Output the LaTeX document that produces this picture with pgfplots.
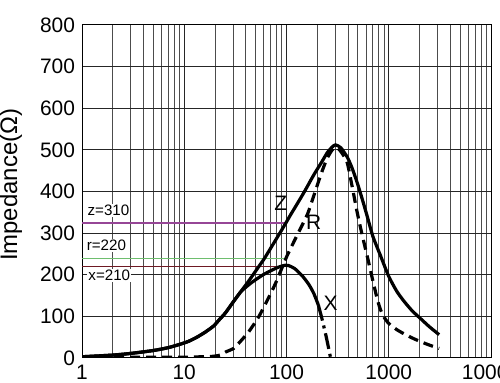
\documentclass[border=0pt]{standalone}
\usepackage{pgfplots}
\pgfplotsset{compat=1.18}
\usepackage{fontspec}
\setmainfont{Liberation Sans}
\definecolor{zcol}{RGB}{150,70,150}
\definecolor{rcol}{RGB}{110,190,110}
\definecolor{xcol}{RGB}{110,25,35}
\begin{document}
\begin{tikzpicture}
\begin{axis}[name=ax, at={(0,0)}, anchor=south west,
  scale only axis, width=204.5bp, height=166.5bp,
  xmode=log, log basis x=10, xmin=1, xmax=10000, ymin=0, ymax=800,
  xtick={1,10,100,1000,10000}, xticklabels={1,10,100,1000,10000},
  minor xtick={2,3,4,5,6,7,8,9,20,30,40,50,60,70,80,90,200,300,400,500,600,700,800,900,2000,3000,4000,5000,6000,7000,8000,9000},
  ytick={0,100,200,300,400,500,600,700,800},
  grid=both,
  major tick length=0pt, minor tick length=0pt,
  tick label style={font=\fontsize{10.5}{12}\selectfont},
  /pgf/number format/assume math mode=true,
  ylabel={Impedance(Ω)},
  ylabel style={at={(axis description cs:0,0.52)}, anchor=center, yshift=35.5bp, font=\fontsize{12}{14}\selectfont},
  axis line style={black, line width=0.5bp},
  major grid style={black!85, line width=0.5bp},
  minor grid style={black!70, line width=0.5bp},
]
% reference lines
\addplot[zcol, line width=0.7bp] coordinates {(1,324) (100,324)};
\addplot[rcol, line width=0.7bp] coordinates {(1,239) (100,239)};
\addplot[xcol, line width=0.7bp] coordinates {(1,220) (96,220)};
% Z
\addplot[black, line width=1.6bp, smooth, tension=0.4] coordinates {
(1,3) (2,7) (3,11) (5,18) (7,25) (9.1,33) (11,40) (13.3,50) (16,62) (19.4,77) (22,92) (25.2,108) (30,134) (35.4,158) (42.7,185) (53,218) (60,237) (67,256) (87,302) (100,327) (109,343) (127,370) (150,400) (185,440) (220,470) (250,493) (280,507) (302,512) (340,505) (394,482) (440,455) (493,420) (550,382) (618,339) (700,292) (833,245) (1000,196) (1200,160) (1413,136) (1700,113) (2060,94) (2500,75) (3110,56)};
% R
\addplot[black, line width=1.6bp, dash pattern=on 5bp off 3bp, smooth, tension=0.4] coordinates {
(1,2) (5,2) (10,2) (15,3) (19,4) (22.5,7) (25.2,14) (30.4,23) (34,35) (42.7,63) (53.5,99) (65,139) (78,179) (94,227) (101,245) (127,295) (160,345) (185,390) (220,445) (250,480) (280,500) (302,507) (330,500) (360,487) (394,468) (440,410) (493,348) (550,295) (618,243) (700,185) (775,140) (833,115) (900,98) (1000,83) (1200,68) (1413,58) (1700,48) (2060,39) (2500,31) (3110,23)};
% X
\addplot[black, line width=1.6bp, smooth, tension=0.4] coordinates {
(1,3) (2,7) (3,11) (5,18) (7,25) (9.1,33) (11,40) (13.3,50) (16,62) (19.4,77) (22,92) (25.2,108) (30,134) (35.4,158) (40,170) (46,182) (53.5,193) (60,201) (72,211) (85,219) (98,223) (105,222) (120,215) (143,197) (165,177) (185,155) (205,127)};
\addplot[black, line width=1.6bp, dash pattern=on 8bp off 2.5bp on 1.5bp off 2.5bp, smooth, tension=0.4] coordinates {
(205,127) (224,91) (245,50) (270,0)};
% labels
\node[anchor=west, fill=white, inner sep=0.5bp, font=\fontsize{7.6}{8}\selectfont] at (axis cs:1.1,354) {z=310};
\node[anchor=west, fill=white, inner sep=0.5bp, font=\fontsize{7.6}{8}\selectfont] at (axis cs:1.08,270) {r=220};
\node[anchor=west, fill=white, inner sep=0.5bp, font=\fontsize{7.6}{8}\selectfont] at (axis cs:1.12,199) {x=210};
\node[font=\fontsize{10.5}{12}\selectfont] at (axis cs:87.7,372) {Z};
\node[font=\fontsize{10.5}{12}\selectfont] at (axis cs:184,327) {R};
\node[font=\fontsize{10.5}{12}\selectfont] at (axis cs:270,132) {X};
\end{axis}
\pgfresetboundingbox
\path[use as bounding box] ([xshift=-41bp,yshift=-12.5bp]ax.south west) rectangle ([xshift=4.5bp,yshift=12.5bp]ax.north east);
\end{tikzpicture}
\end{document}
